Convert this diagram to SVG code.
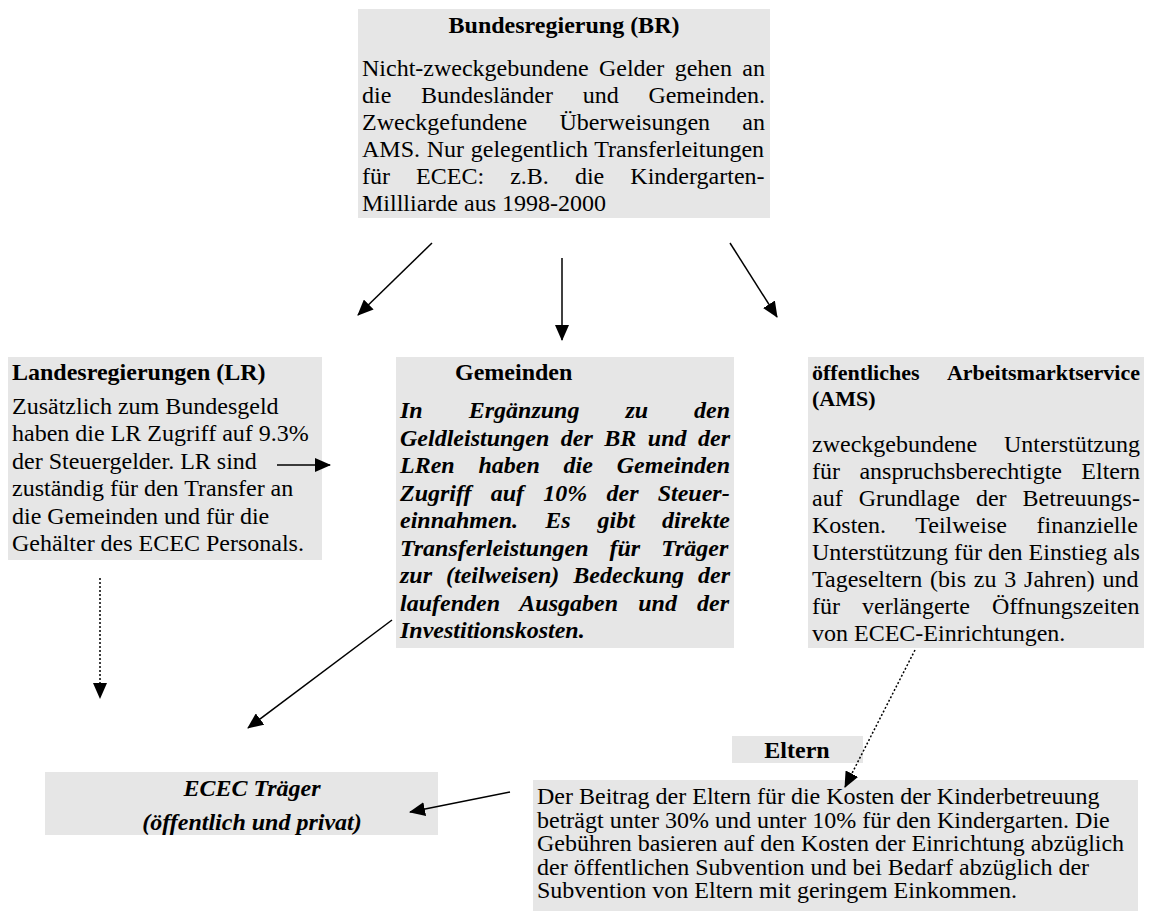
<svg xmlns="http://www.w3.org/2000/svg" width="1160" height="916" viewBox="0 0 1160 916">
<defs>
<style>
.box{fill:#e6e6e6}
text{font-family:"Liberation Serif","Times New Roman",serif;font-size:24px;fill:#000}
.b{font-weight:bold}
.bi{font-weight:bold;font-style:italic}
.c{text-anchor:middle}
.e{text-anchor:end}
.s22{font-size:22px}
.ln{stroke:#000;stroke-width:1.5;fill:none}
.dot{stroke-dasharray:2 2}
</style>
<marker id="ah" markerWidth="16" markerHeight="14" refX="15" refY="7" orient="auto" markerUnits="userSpaceOnUse"><path d="M0,0 L16,7 L0,14 z" fill="#000"/></marker>
</defs>
<rect width="1160" height="916" fill="#fff"/>

<g id="bundesregierung">
<rect class="box" x="358" y="9" width="412" height="209"/>
<text class="b c" x="564" y="33">Bundesregierung (BR)</text>
<text x="362" y="76" style="word-spacing:4.4px">Nicht-zweckgebundene Gelder gehen an</text>
<text x="362" y="103" style="word-spacing:23.7px">die Bundesländer und Gemeinden.</text>
<text x="362" y="130" style="word-spacing:26.2px">Zweckgefundene Überweisungen an</text>
<text x="362" y="157" style="word-spacing:0.7px">AMS. Nur gelegentlich Transferleitungen</text>
<text x="362" y="184" style="word-spacing:20.1px">für ECEC: z.B. die Kindergarten-</text>
<text x="362" y="211">Millliarde aus 1998-2000</text>
</g>

<g id="landesregierungen">
<rect class="box" x="8" y="357" width="314" height="203"/>
<text class="b" x="12" y="380">Landesregierungen (LR)</text>
<text x="12" y="414">Zusätzlich zum Bundesgeld</text>
<text x="12" y="441">haben die LR Zugriff auf 9.3%</text>
<text x="12" y="469">der Steuergelder. LR sind</text>
<text x="12" y="496">zuständig für den Transfer an</text>
<text x="12" y="524">die Gemeinden und für die</text>
<text x="12" y="551">Gehälter des ECEC Personals.</text>
</g>

<g id="gemeinden">
<rect class="box" x="396" y="357" width="338" height="291"/>
<text class="b" x="455" y="380">Gemeinden</text>
<text class="bi" x="400" y="418" style="word-spacing:40px">In Ergänzung zu den</text>
<text class="bi" x="400" y="445.5" style="word-spacing:5.5px">Geldleistungen der BR und der</text>
<text class="bi" x="400" y="473" style="word-spacing:17.8px">LRen haben die Gemeinden</text>
<text class="bi" x="400" y="500.5" style="word-spacing:13.2px">Zugriff auf 10% der Steuer-</text>
<text class="bi" x="400" y="528" style="word-spacing:21.1px">einnahmen. Es gibt direkte</text>
<text class="bi" x="400" y="555.5" style="word-spacing:15px">Transferleistungen für Träger</text>
<text class="bi" x="400" y="583" style="word-spacing:8px">zur (teilweisen) Bedeckung der</text>
<text class="bi" x="400" y="610.5" style="word-spacing:14.2px">laufenden Ausgaben und der</text>
<text class="bi" x="400" y="638">Investitionskosten.</text>
</g>

<g id="ams">
<rect class="box" x="808" y="357" width="336" height="291"/>
<text class="b s22" x="812" y="380">öffentliches</text>
<text class="b e s22" x="1140" y="380">Arbeitsmarktservice</text>
<text class="b s22" x="812" y="406">(AMS)</text>
<text x="812" y="452">zweckgebundene</text>
<text class="e" x="1140" y="452">Unterstützung</text>
<text x="812" y="479" style="word-spacing:13.4px">für anspruchsberechtigte Eltern</text>
<text x="812" y="506" style="word-spacing:10px">auf Grundlage der Betreuungs-</text>
<text x="812" y="533" style="word-spacing:23.7px">Kosten. Teilweise finanzielle</text>
<text x="812" y="560">Unterstützung für den Einstieg als</text>
<text x="812" y="587" style="word-spacing:1.8px">Tageseltern (bis zu 3 Jahren) und</text>
<text x="812" y="614" style="word-spacing:16px">für verlängerte Öffnungszeiten</text>
<text x="812" y="641">von ECEC-Einrichtungen.</text>
</g>

<g id="eltern-titel">
<rect class="box" x="732" y="736" width="131" height="27"/>
<text class="b c" x="797" y="758">Eltern</text>
</g>

<g id="eltern">
<rect class="box" x="533" y="780" width="605" height="131"/>
<text x="537" y="804">Der Beitrag der Eltern für die Kosten der Kinderbetreuung</text>
<text x="537" y="827.5">beträgt unter 30% und unter 10% für den Kindergarten. Die</text>
<text x="537" y="851">Gebühren basieren auf den Kosten der Einrichtung abzüglich</text>
<text x="537" y="874.5">der öffentlichen Subvention und bei Bedarf abzüglich der</text>
<text x="537" y="898">Subvention von Eltern mit geringem Einkommen.</text>
</g>

<g id="ecec-traeger">
<rect class="box" x="45" y="772" width="393" height="63"/>
<text class="bi c" x="252" y="796">ECEC Träger</text>
<text class="bi c" x="252" y="830">(öffentlich und privat)</text>
</g>

<g id="connectors">
<line class="ln" x1="432" y1="243" x2="358" y2="315" marker-end="url(#ah)"/>
<line class="ln" x1="562" y1="258" x2="562" y2="340" marker-end="url(#ah)"/>
<line class="ln" x1="730" y1="243" x2="777" y2="317" marker-end="url(#ah)"/>
<line class="ln" x1="277" y1="465" x2="330" y2="465" marker-end="url(#ah)"/>
<line class="ln dot" x1="100" y1="578" x2="100" y2="698" marker-end="url(#ah)"/>
<line class="ln" x1="392" y1="620" x2="248" y2="728" marker-end="url(#ah)"/>
<line class="ln dot" x1="915" y1="650" x2="845" y2="787" marker-end="url(#ah)"/>
<line class="ln" x1="510" y1="792" x2="410" y2="812" marker-end="url(#ah)"/>
</g>
</svg>
